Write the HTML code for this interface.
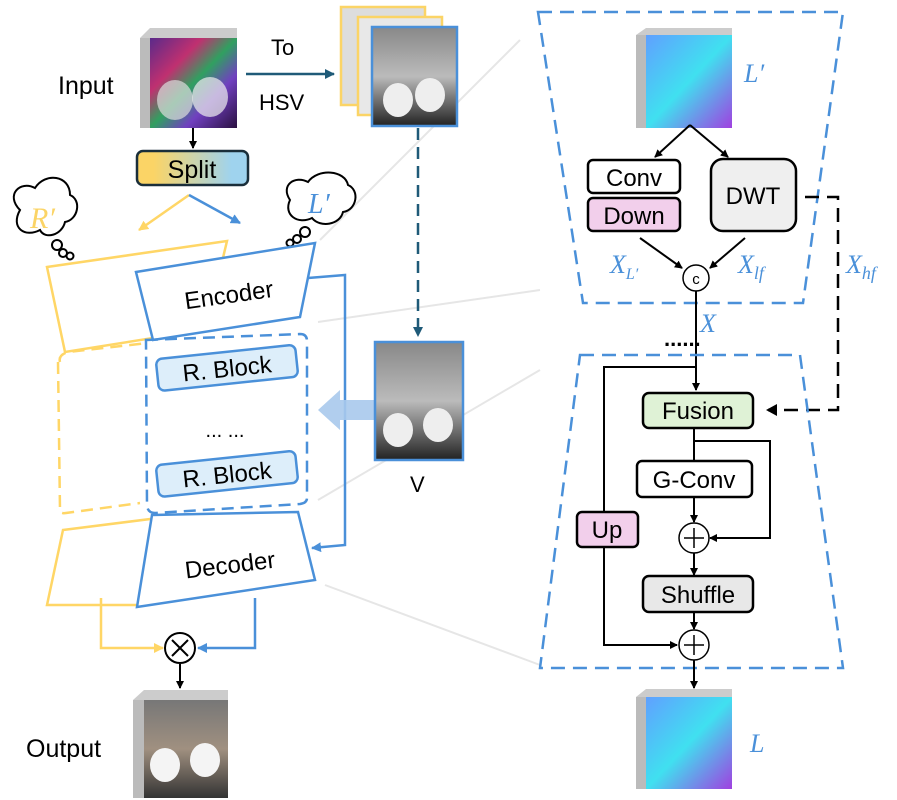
<!DOCTYPE html>
<html><head><meta charset="utf-8"><style>
body{margin:0;background:#fff;}
svg{display:block;font-family:"Liberation Sans",sans-serif;}
</style></head><body>
<svg width="897" height="800" viewBox="0 0 897 800" xmlns="http://www.w3.org/2000/svg">
<defs>
<marker id="ak" markerWidth="8" markerHeight="8" refX="7" refY="4" orient="auto" markerUnits="userSpaceOnUse"><path d="M0,0 L8,4 L0,8 z" fill="#000"/></marker>
<marker id="ab" markerWidth="10" markerHeight="10" refX="9" refY="5" orient="auto" markerUnits="userSpaceOnUse"><path d="M0,0 L10,5 L0,10 z" fill="#4a90d9"/></marker>
<marker id="ay" markerWidth="10" markerHeight="10" refX="9" refY="5" orient="auto" markerUnits="userSpaceOnUse"><path d="M0,0 L10,5 L0,10 z" fill="#ffd666"/></marker>
<marker id="at" markerWidth="10" markerHeight="10" refX="9" refY="5" orient="auto" markerUnits="userSpaceOnUse"><path d="M0,0 L10,5 L0,10 z" fill="#1f5a78"/></marker>
<linearGradient id="split" x1="0" x2="1"><stop offset="0.15" stop-color="#fbd466"/><stop offset="0.85" stop-color="#9fd3ee"/></linearGradient>
<linearGradient id="rgb" x1="0" y1="0" x2="1" y2="1"><stop offset="0" stop-color="#5a2a8a"/><stop offset="0.3" stop-color="#c03070"/><stop offset="0.5" stop-color="#30a060"/><stop offset="0.7" stop-color="#7040c0"/><stop offset="1" stop-color="#2a1040"/></linearGradient>
<linearGradient id="gray" x1="0" y1="0" x2="0" y2="1"><stop offset="0" stop-color="#888"/><stop offset="0.5" stop-color="#bbb"/><stop offset="1" stop-color="#222"/></linearGradient>
<linearGradient id="cy" x1="0" y1="0" x2="1" y2="1"><stop offset="0" stop-color="#60a0ff"/><stop offset="0.5" stop-color="#40e0f0"/><stop offset="1" stop-color="#a040e0"/></linearGradient>
<linearGradient id="out" x1="0" y1="0" x2="0" y2="1"><stop offset="0" stop-color="#777"/><stop offset="0.5" stop-color="#a09080"/><stop offset="1" stop-color="#333"/></linearGradient>
</defs>

<g stroke="#e6e6e6" stroke-width="2" fill="none">
<line x1="320" y1="240" x2="520" y2="40"/>
<line x1="318" y1="322" x2="540" y2="290"/>
<line x1="318" y1="500" x2="540" y2="370"/>
<line x1="325" y1="585" x2="540" y2="665"/>
</g>

<polygon points="140,38 150,28 237,28 237,38" fill="#ccc"/>
<rect x="140" y="38" width="10" height="90" fill="#bbb"/>
<rect x="150" y="38" width="87" height="90" fill="url(#rgb)"/>
<ellipse cx="175" cy="100" rx="18" ry="20" fill="#ddd" opacity="0.7"/><ellipse cx="210" cy="97" rx="18" ry="20" fill="#eee" opacity="0.7"/>
<text x="58" y="94" font-size="25">Input</text>

<line x1="246" y1="74" x2="334" y2="74" stroke="#1f5a78" stroke-width="2.5" marker-end="url(#at)"/>
<text x="271" y="55" font-size="22">To</text>
<text x="259" y="110" font-size="22">HSV</text>
<rect x="341" y="7" width="84" height="98" fill="#ddd" stroke="#fbd466" stroke-width="2.5"/>
<rect x="358" y="17" width="84" height="98" fill="#e8e8e8" stroke="#fbd466" stroke-width="2.5"/>
<rect x="372" y="27" width="85" height="99" fill="url(#gray)" stroke="#4a90d9" stroke-width="2.5"/>
<ellipse cx="398" cy="100" rx="15" ry="17" fill="#eee"/><ellipse cx="430" cy="95" rx="15" ry="17" fill="#eee"/>
<line x1="418" y1="128" x2="418" y2="336" stroke="#1f5a78" stroke-width="2.5" stroke-dasharray="12,7" marker-end="url(#at)"/>

<line x1="193" y1="128" x2="193" y2="148" stroke="#000" stroke-width="2" marker-end="url(#ak)"/>
<rect x="137" y="151" width="111" height="34" rx="6" fill="url(#split)" stroke="#1a2e3a" stroke-width="2.5"/>
<text x="192" y="178" font-size="25" text-anchor="middle">Split</text>
<line x1="189" y1="195" x2="139" y2="230" stroke="#ffd666" stroke-width="2.5" marker-end="url(#ay)"/>
<line x1="189" y1="195" x2="240" y2="223" stroke="#4a90d9" stroke-width="2.5" marker-end="url(#ab)"/>

<g fill="#fff" stroke="#000" stroke-width="2">
<path d="M20,210 C5,195 20,180 35,188 C45,172 70,175 70,195 C82,200 78,220 65,222 C62,235 45,240 40,230 C25,238 10,228 20,210 z"/>
<circle cx="57" cy="245" r="5"/><circle cx="63" cy="253" r="4"/><circle cx="70" cy="256" r="3.5"/>
<path d="M290,200 C280,185 295,175 308,182 C318,168 345,170 348,185 C360,190 357,210 343,212 C340,225 320,228 312,218 C298,225 283,215 290,200 z"/>
<circle cx="305" cy="232" r="5"/><circle cx="297" cy="239" r="4"/><circle cx="290" cy="243" r="3.5"/>
</g>
<text x="30" y="228" font-size="30" font-family="Liberation Serif,serif" font-style="italic" fill="#fbd466">R′</text>
<text x="308" y="213" font-size="28" font-family="Liberation Serif,serif" font-style="italic" fill="#4a90d9">L′</text>

<polygon points="47,267 227,241 222,262 148,275 153,338 65,352" fill="#fff" stroke="#ffd666" stroke-width="2.5"/>
<polygon points="136,272 315,243 300,317 153,340" fill="#fff" stroke="#4a90d9" stroke-width="2.5"/>
<text x="230" y="303" font-size="24" text-anchor="middle" transform="rotate(-8 230 303)">Encoder</text>

<path d="M60,362 Q58,355 68,352 L148,343 M58,362 L60,510 Q60,514 66,513 L140,503" fill="none" stroke="#ffd666" stroke-width="2.5" stroke-dasharray="12,7"/>
<path d="M146,340 L300,334 Q307,334 307,341 L307,498 Q307,503 300,504 L155,513 Q148,513 147,506 z" fill="none" stroke="#4a90d9" stroke-width="2.5" stroke-dasharray="12,7"/>
<g transform="rotate(-6 226 368)"><rect x="157" y="352" width="140" height="32" rx="6" fill="#ddeefa" stroke="#4a90d9" stroke-width="2.5"/><text x="227" y="377" font-size="24" text-anchor="middle">R. Block</text></g>
<g transform="rotate(-6 226 474)"><rect x="157" y="458" width="140" height="32" rx="6" fill="#ddeefa" stroke="#4a90d9" stroke-width="2.5"/><text x="227" y="483" font-size="24" text-anchor="middle">R. Block</text></g>
<text x="225" y="437" font-size="20" text-anchor="middle">... ...</text>

<polygon points="63,530 182,515 140,605 47,605" fill="#fff" stroke="#ffd666" stroke-width="2.5"/>
<polygon points="152,515 298,512 315,580 137,607" fill="#fff" stroke="#4a90d9" stroke-width="2.5"/>
<text x="231" y="573" font-size="24" text-anchor="middle" transform="rotate(-7 231 573)">Decoder</text>

<polyline points="308,278 345,275 345,545 312,548" fill="none" stroke="#4a90d9" stroke-width="2.5" marker-end="url(#ab)"/>
<polygon points="375,400 340,400 340,390 318,410 340,430 340,420 375,420" fill="#a9c9ec" opacity="0.9"/>

<rect x="375" y="342" width="88" height="118" fill="url(#gray)" stroke="#4a90d9" stroke-width="2.5"/>
<ellipse cx="398" cy="430" rx="15" ry="17" fill="#eee"/><ellipse cx="438" cy="425" rx="15" ry="17" fill="#eee"/>
<text x="410" y="492" font-size="22">V</text>

<polyline points="101,598 101,648 163,648" fill="none" stroke="#ffd666" stroke-width="2.5" marker-end="url(#ay)"/>
<polyline points="255,598 255,648 198,648" fill="none" stroke="#4a90d9" stroke-width="2.5" marker-end="url(#ab)"/>
<circle cx="180" cy="648" r="15" fill="#fff" stroke="#000" stroke-width="2"/>
<path d="M172,640 L188,656 M188,640 L172,656" stroke="#000" stroke-width="2"/>
<line x1="180" y1="664" x2="180" y2="688" stroke="#000" stroke-width="2" marker-end="url(#ak)"/>

<polygon points="133,700 144,690 228,690 228,700" fill="#ccc"/>
<rect x="133" y="700" width="11" height="98" fill="#bbb"/>
<rect x="144" y="700" width="84" height="98" fill="url(#out)"/>
<ellipse cx="165" cy="765" rx="15" ry="17" fill="#f4f4f4"/><ellipse cx="205" cy="760" rx="15" ry="17" fill="#f4f4f4"/>
<text x="26" y="757" font-size="25">Output</text>

<polygon points="538,12 843,12 803,303 583,303" fill="none" stroke="#4a90d9" stroke-width="2.5" stroke-dasharray="14,8"/>
<polygon points="636,35 646,28 732,28 732,35" fill="#ccc"/>
<rect x="636" y="35" width="10" height="93" fill="#bbb"/>
<rect x="646" y="35" width="86" height="93" fill="url(#cy)"/>
<text x="744" y="82" font-size="26" font-family="Liberation Serif,serif" font-style="italic" fill="#4a90d9">L′</text>
<line x1="690" y1="125" x2="655" y2="157" stroke="#000" stroke-width="2" marker-end="url(#ak)"/>
<line x1="690" y1="125" x2="728" y2="157" stroke="#000" stroke-width="2" marker-end="url(#ak)"/>
<rect x="588" y="160" width="92" height="33" rx="5" fill="#fff" stroke="#000" stroke-width="2.5"/>
<text x="634" y="186" font-size="24" text-anchor="middle">Conv</text>
<rect x="588" y="198" width="92" height="33" rx="5" fill="#f2cfeb" stroke="#000" stroke-width="2.5"/>
<text x="634" y="224" font-size="24" text-anchor="middle">Down</text>
<rect x="711" y="159" width="85" height="72" rx="12" fill="#efefef" stroke="#000" stroke-width="2.5"/>
<text x="753" y="204" font-size="24" text-anchor="middle">DWT</text>
<line x1="640" y1="238" x2="682" y2="268" stroke="#000" stroke-width="2" marker-end="url(#ak)"/>
<line x1="745" y1="238" x2="710" y2="268" stroke="#000" stroke-width="2" marker-end="url(#ak)"/>
<circle cx="696" cy="278" r="13" fill="#fff" stroke="#000" stroke-width="1.5"/>
<text x="696" y="284" font-size="15" text-anchor="middle">c</text>
<g font-family="Liberation Serif,serif" font-style="italic" fill="#4a90d9">
<text x="610" y="273" font-size="26">X<tspan font-size="16" dy="6">L′</tspan></text>
<text x="738" y="273" font-size="26">X<tspan font-size="18" dy="6">lf</tspan></text>
<text x="846" y="273" font-size="26">X<tspan font-size="18" dy="6">hf</tspan></text>
<text x="700" y="332" font-size="26">X</text>
</g>
<polyline points="805,197 838,197 838,410 768,410" fill="none" stroke="#000" stroke-width="2.5" stroke-dasharray="14,8"/>
<path d="M766,410 L777,404 L777,416 z" fill="#000"/>
<line x1="696" y1="291" x2="696" y2="390" stroke="#000" stroke-width="2" marker-end="url(#ak)"/>
<text x="664" y="346" font-size="22" font-weight="bold">......</text>

<polygon points="580,355 800,355 843,668 540,668" fill="none" stroke="#4a90d9" stroke-width="2.5" stroke-dasharray="14,8"/>
<polyline points="696,367 604,367 604,645 677,645" fill="none" stroke="#000" stroke-width="2" marker-end="url(#ak)"/>
<rect x="643" y="393" width="110" height="35" rx="6" fill="#dff2d6" stroke="#000" stroke-width="2.5"/>
<text x="698" y="419" font-size="24" text-anchor="middle">Fusion</text>
<line x1="694" y1="428" x2="694" y2="461" stroke="#000" stroke-width="2"/>
<polyline points="694,441 770,441 770,538 710,538" fill="none" stroke="#000" stroke-width="2" marker-end="url(#ak)"/>
<rect x="637" y="461" width="115" height="36" rx="5" fill="#fff" stroke="#000" stroke-width="2.5"/>
<text x="694" y="488" font-size="24" text-anchor="middle">G-Conv</text>
<line x1="694" y1="497" x2="694" y2="522" stroke="#000" stroke-width="2" marker-end="url(#ak)"/>
<circle cx="694" cy="538" r="15" fill="#fff" stroke="#000" stroke-width="1.5"/>
<path d="M684,538 H704 M694,528 V548" stroke="#000" stroke-width="1.5"/>
<rect x="577" y="512" width="61" height="35" rx="5" fill="#f2cfeb" stroke="#000" stroke-width="2.5"/>
<text x="607" y="538" font-size="24" text-anchor="middle">Up</text>
<line x1="694" y1="553" x2="694" y2="575" stroke="#000" stroke-width="2" marker-end="url(#ak)"/>
<rect x="643" y="576" width="110" height="36" rx="6" fill="#e8e8e8" stroke="#000" stroke-width="2.5"/>
<text x="698" y="603" font-size="24" text-anchor="middle">Shuffle</text>
<line x1="694" y1="612" x2="694" y2="629" stroke="#000" stroke-width="2" marker-end="url(#ak)"/>
<circle cx="694" cy="645" r="15" fill="#fff" stroke="#000" stroke-width="1.5"/>
<path d="M684,645 H704 M694,635 V655" stroke="#000" stroke-width="1.5"/>
<line x1="694" y1="660" x2="694" y2="688" stroke="#000" stroke-width="2" marker-end="url(#ak)"/>
<polygon points="636,697 646,689 732,689 732,697" fill="#ccc"/>
<rect x="636" y="697" width="10" height="92" fill="#bbb"/>
<rect x="646" y="697" width="86" height="92" fill="url(#cy)"/>
<text x="750" y="752" font-size="26" font-family="Liberation Serif,serif" font-style="italic" fill="#4a90d9">L</text>
</svg>
</body></html>
